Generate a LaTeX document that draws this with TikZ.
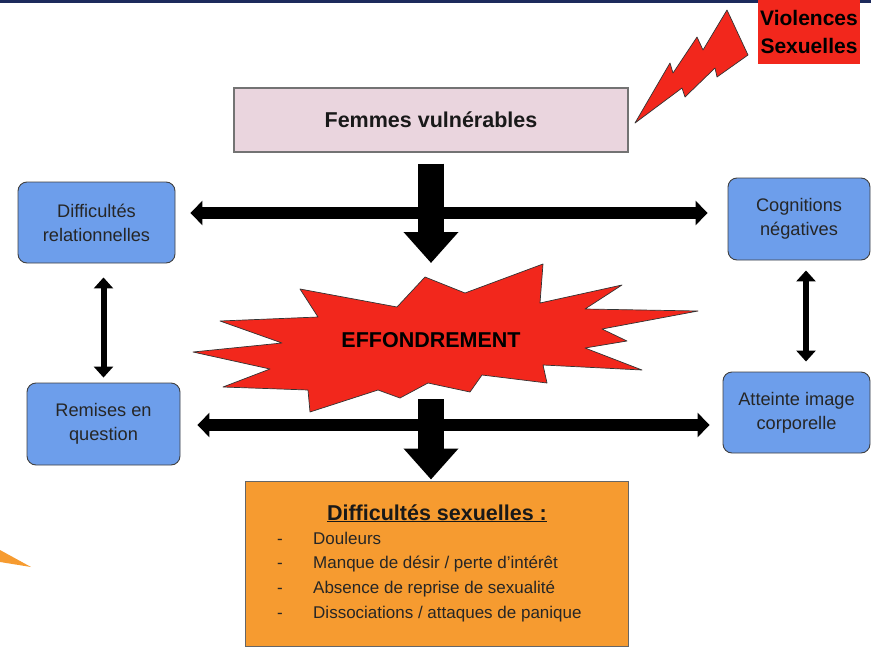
\documentclass[tikz,border=0pt]{standalone}
\usepackage{fontspec}
\setmainfont{Liberation Sans}
\usetikzlibrary{calc,arrows.meta}
\definecolor{boxblue}{HTML}{6D9EEB}
\definecolor{boxpink}{HTML}{EAD5DE}
\definecolor{boxorange}{HTML}{F69B30}
\definecolor{flashred}{HTML}{F2271C}
\definecolor{topnavy}{HTML}{1C2A5C}

\begin{document}
\begin{tikzpicture}[x=1pt,y=-1pt,
    bluebox/.style={draw=black!75,line width=0.9pt,fill=boxblue,rounded corners=9pt,
      align=center,inner sep=0pt,text=black!85,font=\fontsize{18.2}{24}\selectfont},
    bigarrow/.style={line width=26pt,-{Triangle[length=31pt,width=53pt]}},
    sidearrow/.style={line width=12pt,{Triangle[length=12pt,width=24pt]}-{Triangle[length=12pt,width=24pt]}},
    linkarrow/.style={line width=6pt,{Triangle[length=11pt,width=19pt]}-{Triangle[length=11pt,width=19pt]}},
    redshape/.style={fill=flashred,draw=black!80,line width=0.7pt,line join=round},
    itemtext/.style={inner sep=0pt,text=black!85,font=\fontsize{17}{20}\selectfont}]

    \useasboundingbox (0,0) rectangle (871,648);
    \fill[topnavy] (0,0) rectangle (871,2.5); % 顶部细线
    \fill[boxorange] (0,550) -- (31,567) -- (0,562) -- cycle; % 左下角橙色

    % 闪电与标签
    \draw[redshape] (635,123) -- (670,63) -- (673,73) -- (697,37) -- (703,50) -- (727,10)
        -- (748,55) -- (717,77) -- (715,68) -- (685,97) -- (682,88) -- cycle;
    \node (violences) at (809,32) [fill=flashred,minimum width=102pt,minimum height=64pt,inner sep=0pt,
        align=center,font=\bfseries\fontsize{21}{28}\selectfont] {Violences\\Sexuelles};

    \node (femmes) at (431,120) [draw=black!55,line width=1.2pt,fill=boxpink,minimum width=394pt,
        minimum height=64pt,text=black!90,font=\bfseries\fontsize{21.5}{26}\selectfont] {Femmes vulnérables};

    % 四个蓝色方框
    \node (rel) at (96.5,222.5) [bluebox,minimum width=157pt,minimum height=81pt] {Difficultés\\relationnelles};
    \node (rem) at (103.5,424) [bluebox,minimum width=153pt,minimum height=82pt] {Remises en\\question};
    \node (cog) at (799,219) [bluebox,minimum width=142pt,minimum height=82pt] {Cognitions\\négatives};
    \node (att) at (796.5,412.5) [bluebox,minimum width=147pt,minimum height=81pt] {Atteinte image\\corporelle};

    % 爆炸形状
    \draw[redshape] (425,277) -- (465,293) -- (543,264) -- (540,303) -- (622,285) -- (585,309)
        -- (698,311) -- (602,329) -- (627,341) -- (585,348) -- (642,370) -- (543,365)
        -- (547,383) -- (482,375) -- (470,392) -- (428,383) -- (400,398) -- (378,390)
        -- (310,412) -- (308,390) -- (223,387) -- (270,369) -- (193,352) -- (282,343)
        -- (220,321) -- (318,317) -- (300,289) -- (397,307) -- cycle;
    \node (effond) at (431,340) [font=\bfseries\fontsize{21.5}{26}\selectfont] {EFFONDREMENT};

    % 橙色方框
    \node (sex) at (436.5,563.5) [draw=black!60,line width=1pt,fill=boxorange,minimum width=383pt,minimum height=165pt] {};
    \node (sextitle) at (437,520) [anchor=base,inner sep=0pt,text=black!90,font=\bfseries\fontsize{21.5}{26}\selectfont]
        {\underline{Difficultés sexuelles :}};
    \foreach \txt [count=\i from 0] in {Douleurs,Manque de désir / perte d’intérêt,
        Absence de reprise de sexualité,Dissociations / attaques de panique} {
        \node (dash\i) at (280,{544+24.7*\i}) [anchor=base,itemtext] {-};
        \node (item\i) at (313,{544+24.7*\i}) [anchor=base west,itemtext] {\txt};
    }

    % 箭头
    \coordinate (tophz) at (431,213);
    \coordinate (bothz) at (431,425);
    \draw[sidearrow,shorten <=15pt,shorten >=20pt] (rel.east |- tophz) -- (cog.west |- tophz);
    \draw[sidearrow,shorten <=17pt,shorten >=13pt] (rem.east |- bothz) -- (att.west |- bothz);
    \draw[bigarrow,shorten <=11pt,shorten >=77pt] (femmes.south) -- (effond.center);
    \draw[bigarrow,shorten <=59pt,shorten >=1pt] (effond.center) -- (effond.center |- sex.north);
    \draw[linkarrow,shorten <=14pt,shorten >=5pt] (rem.north |- rel.south) -- (rem.north);
    \draw[linkarrow,shorten <=10pt,shorten >=10pt] ([xshift=7pt]cog.south) -- ([xshift=7pt]cog.south |- att.north);
\end{tikzpicture}
\end{document}
